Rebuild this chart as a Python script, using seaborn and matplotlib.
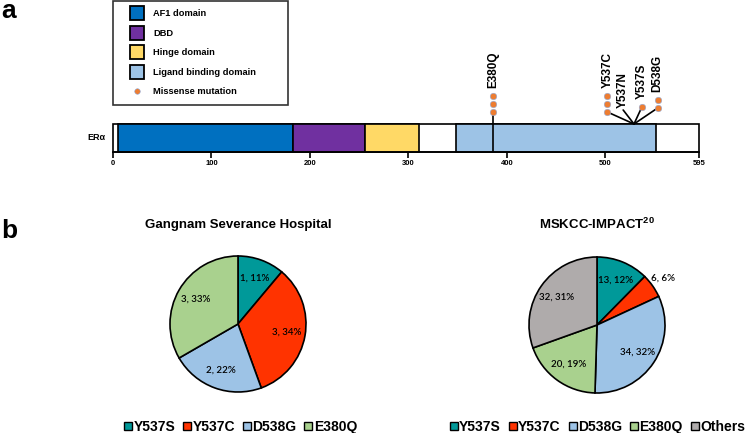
import numpy as np
import pandas as pd
import matplotlib
matplotlib.use('Agg')
import matplotlib.pyplot as plt
from matplotlib.lines import Line2D
import seaborn as sns

# ---- panel a: ERalpha domain map ----
PROTEIN_LENGTH = 595
domain_names = ['AF1 domain', 'DBD', 'Hinge domain', 'Ligand binding domain']
domain_start = [5, 183, 256, 348]
domain_end = [183, 256, 311, 551]
domain_colors = ['#0070C0', '#7030A0', '#FFD966', '#9DC3E6']
axis_ticks = [0, 100, 200, 300, 400, 500, 595]

mut_names = ['E380Q', 'Y537C', 'Y537N', 'Y537S', 'D538G']
mut_counts = [3, 3, 0, 1, 2]
mut_anchor = [386, 529, 529, 529, 529]   # where the stem meets the bar
mut_tip = [386, 502, 518, 537, 553]      # fanned-out dot positions
stem_top = [40, 40, 42, 45, 44]          # layout, in pixel units above bar bottom

# ---- panel b: mutation frequencies ----
pie_cats = ['Y537S', 'Y537C', 'D538G', 'E380Q', 'Others']
pie_colors = ['#009999', '#FF3300', '#9DC3E6', '#A9D18E', '#AFABAB']
gs_counts = [1, 3, 2, 3]
gs_pct = [11, 34, 22, 33]
msk_counts = [13, 6, 34, 20, 32]
msk_pct = [12, 6, 32, 19, 31]

MUT_COLOR = '#ED7D31'

sns.set_style('white')
plt.rcParams['font.family'] = ['Liberation Sans', 'DejaVu Sans']
plt.rcParams['text.color'] = 'black'
plt.rcParams['xtick.color'] = 'black'
plt.rcParams['axes.labelcolor'] = 'black'
plt.rcParams['mathtext.fontset'] = 'custom'
plt.rcParams['mathtext.bf'] = 'Liberation Sans:bold'
plt.rcParams['mathtext.rm'] = 'Liberation Sans'

W, H = 748, 433
fig = plt.figure(figsize=(W / 100, H / 100), dpi=100)


def frac(x, y, w, h):
    # pixel box (top-left origin) -> figure fraction
    return [x / W, 1 - (y + h) / H, w / W, h / H]


# ---------------- panel a ----------------
ax = fig.add_axes(frac(113, 40, 586, 112))
ax.set_xlim(0, PROTEIN_LENGTH)
ax.set_ylim(0, 112)
BAR_H = 28

ax.barh(BAR_H / 2, PROTEIN_LENGTH, left=0, height=BAR_H, color='white',
        edgecolor='black', linewidth=1.2, clip_on=False, zorder=1)
ax.barh([BAR_H / 2] * len(domain_start),
        np.array(domain_end) - np.array(domain_start), left=domain_start,
        height=BAR_H, color=domain_colors, edgecolor='black', linewidth=1.2,
        clip_on=False, zorder=2)

dots = []
for name, n, a, t, st in zip(mut_names, mut_counts, mut_anchor, mut_tip, stem_top):
    if a == t:
        ax.plot([t, t], [0, st], color='black', lw=1.2, zorder=3, clip_on=False)
    else:
        ax.plot([a, t], [BAR_H, st], color='black', lw=1.2, zorder=3)
    for k in range(n):
        dots.append({'x': t, 'y': st + 8 * k})
    top = st + 8 * (n - 1) + 8 if n > 0 else st + 2
    ax.text(t, top, name, rotation=90, ha='center', va='bottom',
            fontsize=8.5, fontweight='bold')

dots = pd.DataFrame(dots)
sns.scatterplot(data=dots, x='x', y='y', ax=ax, color=MUT_COLOR, s=22,
                edgecolor='#8FAADC', linewidth=0.4, zorder=4, legend=False)

ax.text(-8, BAR_H / 2, 'ERα', ha='right', va='center', fontsize=6.5,
        fontweight='bold')

for s in ['top', 'right', 'left']:
    ax.spines[s].set_visible(False)
ax.spines['bottom'].set_linewidth(1.2)
ax.spines['bottom'].set_color('black')
ax.set_xticks(axis_ticks)
ax.set_yticks([])
ax.set_xlabel('')
ax.set_ylabel('')
ax.tick_params(axis='x', bottom=True, length=4, width=1.2, direction='out',
               pad=2, labelsize=5.5, color='black')
for lbl in ax.get_xticklabels():
    lbl.set_fontweight('bold')

handles = [Line2D([], [], marker='s', ls='', markersize=10, markerfacecolor=c,
                  markeredgecolor='black', markeredgewidth=1.3)
           for c in domain_colors]
handles.append(Line2D([], [], marker='o', ls='', markersize=4,
                      markerfacecolor=MUT_COLOR, markeredgecolor='#8FAADC',
                      markeredgewidth=0.4))
leg = fig.legend(handles, domain_names + ['Missense mutation'],
                 loc='upper left', bbox_to_anchor=(113 / W, 1 - 114 / H, 175 / W, 113 / H),
                 mode='expand', borderaxespad=0, borderpad=0.9, labelspacing=1.13,
                 handlelength=3.3, handletextpad=0.1, fancybox=False,
                 prop={'weight': 'bold', 'size': 6.7})
leg.get_frame().set_edgecolor('black')
leg.get_frame().set_linewidth(1.2)

# ---------------- panel b ----------------
def draw_pie(cx, cy, counts, pcts, title):
    r = 68
    side = 2.2 * r
    pax = fig.add_axes(frac(cx - side / 2, cy - side / 2, side, side))
    labels = iter([f'{c}, {p}%' for c, p in zip(counts, pcts)])
    wedges, _, autotexts = pax.pie(
        counts, colors=pie_colors[:len(counts)], startangle=90,
        counterclock=False, autopct=lambda _: next(labels), pctdistance=0.72,
        wedgeprops=dict(edgecolor='black', linewidth=1.2),
        textprops=dict(fontsize=7, family=['Lato', 'DejaVu Sans'],
                       fontweight='semibold', color='black'))
    pax.set_xlim(-1.1, 1.1)
    pax.set_ylim(-1.1, 1.1)
    pax.set_title(title, fontsize=9.5, fontweight='bold', pad=15)
    return pax, wedges, autotexts


draw_pie(238, 324, gs_counts, gs_pct, 'Gangnam Severance Hospital')
_, w2, t2 = draw_pie(597, 325, msk_counts, msk_pct, r'MSKCC-IMPACT$^{\mathbf{20}}$')
# small slice label sits outside the wedge
mid = np.deg2rad((w2[1].theta1 + w2[1].theta2) / 2)
t2[1].set_position((1.19 * np.cos(mid), 1.19 * np.sin(mid)))


def pie_legend(cx, n):
    hs = [Line2D([], [], marker='s', ls='', markersize=6, markerfacecolor=c,
                 markeredgecolor='black', markeredgewidth=1.0)
          for c in pie_colors[:n]]
    fig.legend(hs, pie_cats[:n], loc='center', bbox_to_anchor=(cx / W, 1 - 427 / H),
               ncol=n, frameon=False, borderpad=0, borderaxespad=0,
               handlelength=0.7, handletextpad=0.05, columnspacing=0.5,
               prop={'weight': 'bold', 'size': 10})


pie_legend(240, 4)
pie_legend(597, 5)

fig.text(0.002, 1 - 18 / H, 'a', fontsize=19, fontweight='bold', va='baseline')
fig.text(0.002, 1 - 238 / H, 'b', fontsize=19, fontweight='bold', va='baseline')

fig.savefig('out.png', dpi=100)
